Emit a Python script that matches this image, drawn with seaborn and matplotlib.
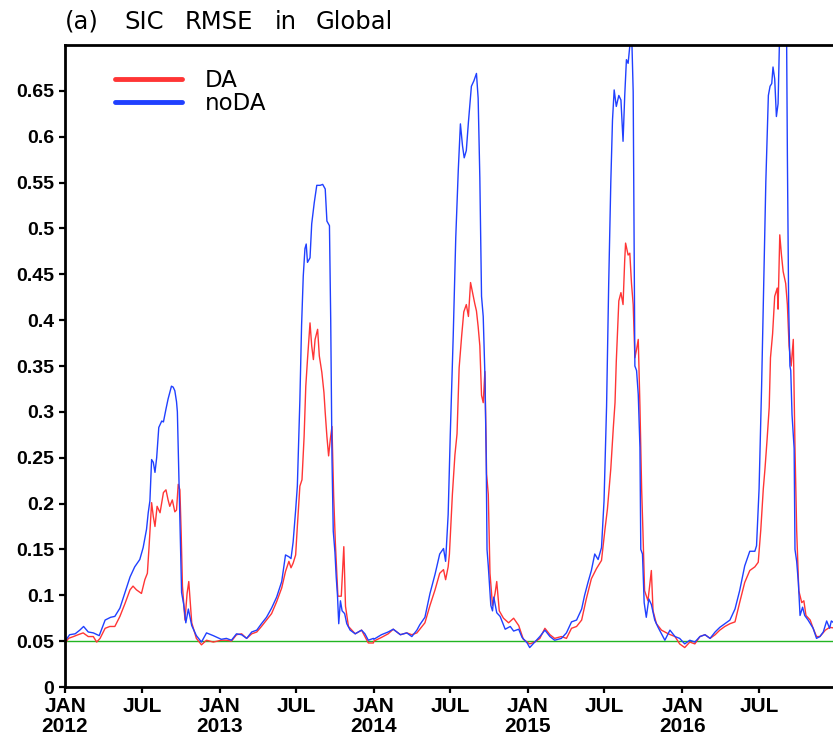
import numpy as np
import pandas as pd
import matplotlib
matplotlib.use("Agg")
import matplotlib.pyplot as plt
import matplotlib.dates as mdates
from matplotlib.ticker import FixedLocator, FuncFormatter
import seaborn as sns

# ---------------- data ----------------
noda_dates = [
    "2012-01-01", "2012-01-12", "2012-01-25", "2012-02-05", "2012-02-14", "2012-02-25", "2012-03-08", "2012-03-22", "2012-04-05", "2012-04-18",
    "2012-04-28", "2012-05-10", "2012-05-22", "2012-06-03", "2012-06-14", "2012-06-26", "2012-07-04", "2012-07-12", "2012-07-16", "2012-07-20",
    "2012-07-24", "2012-07-28", "2012-08-01", "2012-08-05", "2012-08-10", "2012-08-17", "2012-08-21", "2012-08-27", "2012-09-01", "2012-09-09",
    "2012-09-13", "2012-09-17", "2012-09-21", "2012-09-23", "2012-09-28", "2012-10-03", "2012-10-08", "2012-10-13", "2012-10-19", "2012-10-27",
    "2012-11-07", "2012-11-19", "2012-12-01", "2012-12-17",
    "2013-01-05", "2013-01-17", "2013-01-29", "2013-02-10", "2013-02-22", "2013-03-06", "2013-03-18", "2013-03-30", "2013-04-10", "2013-04-22",
    "2013-05-04", "2013-05-16", "2013-05-28", "2013-06-06", "2013-06-14", "2013-06-19", "2013-06-24", "2013-06-30", "2013-07-04", "2013-07-10",
    "2013-07-14", "2013-07-18", "2013-07-22", "2013-07-25", "2013-07-28", "2013-08-03", "2013-08-07", "2013-08-13", "2013-08-19", "2013-08-27",
    "2013-09-02", "2013-09-08", "2013-09-12", "2013-09-18", "2013-09-21", "2013-09-24", "2013-09-27", "2013-10-01", "2013-10-04", "2013-10-07",
    "2013-10-10", "2013-10-14", "2013-10-18", "2013-10-24", "2013-10-29", "2013-11-06", "2013-11-18", "2013-12-03", "2013-12-11", "2013-12-19",
    "2013-12-31",
    "2014-01-01", "2014-01-19", "2014-02-04", "2014-02-16", "2014-03-05", "2014-03-20", "2014-04-01", "2014-04-13", "2014-04-20", "2014-05-02",
    "2014-05-14", "2014-05-26", "2014-06-06", "2014-06-15", "2014-06-20", "2014-06-26", "2014-07-01", "2014-07-08", "2014-07-14", "2014-07-20",
    "2014-07-25", "2014-07-30", "2014-08-03", "2014-08-08", "2014-08-13", "2014-08-20", "2014-08-26", "2014-09-01", "2014-09-05", "2014-09-09",
    "2014-09-13", "2014-09-17", "2014-09-21", "2014-09-24", "2014-09-26", "2014-09-29", "2014-10-05", "2014-10-09", "2014-10-12", "2014-10-19",
    "2014-10-27", "2014-11-08", "2014-11-20", "2014-11-28", "2014-12-10", "2014-12-18", "2014-12-30",
    "2015-01-05", "2015-01-17", "2015-01-29", "2015-02-10", "2015-02-22", "2015-03-05", "2015-03-21", "2015-04-02", "2015-04-14", "2015-04-26",
    "2015-05-08", "2015-05-15", "2015-05-23", "2015-05-31", "2015-06-08", "2015-06-16", "2015-06-24", "2015-06-30", "2015-07-06", "2015-07-11",
    "2015-07-16", "2015-07-20", "2015-07-24", "2015-07-29", "2015-08-04", "2015-08-09", "2015-08-14", "2015-08-18", "2015-08-22", "2015-08-26",
    "2015-08-30", "2015-09-03", "2015-09-07", "2015-09-11", "2015-09-15", "2015-09-19", "2015-09-23", "2015-09-25", "2015-09-29", "2015-10-03",
    "2015-10-08", "2015-10-14", "2015-10-20", "2015-10-28", "2015-11-05", "2015-11-21", "2015-12-03", "2015-12-15", "2015-12-26",
    "2016-01-07", "2016-01-19", "2016-01-31", "2016-02-12", "2016-02-24", "2016-03-07", "2016-03-19", "2016-03-30", "2016-04-11", "2016-04-23",
    "2016-05-05", "2016-05-16", "2016-05-28", "2016-06-09", "2016-06-21", "2016-06-25", "2016-07-01", "2016-07-07", "2016-07-12", "2016-07-17",
    "2016-07-23", "2016-07-27", "2016-07-31", "2016-08-03", "2016-08-07", "2016-08-11", "2016-08-15", "2016-08-19", "2016-08-27", "2016-09-04",
    "2016-09-06", "2016-09-09", "2016-09-12", "2016-09-14", "2016-09-17", "2016-09-22", "2016-09-24", "2016-09-28", "2016-10-02", "2016-10-06",
    "2016-10-12", "2016-10-17", "2016-10-25", "2016-11-06", "2016-11-14", "2016-11-22", "2016-11-30", "2016-12-08", "2016-12-15", "2016-12-19",
    "2016-12-31",
]
noda_vals = [
    0.050, 0.057, 0.058, 0.062, 0.066, 0.060, 0.059, 0.056, 0.073, 0.076,
    0.077, 0.086, 0.103, 0.120, 0.131, 0.139, 0.152, 0.172, 0.190, 0.203,
    0.248, 0.245, 0.234, 0.250, 0.283, 0.290, 0.289, 0.303, 0.314, 0.328,
    0.327, 0.323, 0.311, 0.300, 0.200, 0.103, 0.090, 0.070, 0.085, 0.067,
    0.056, 0.049, 0.059, 0.056,
    0.052, 0.053, 0.051, 0.058, 0.057, 0.053, 0.060, 0.062, 0.069, 0.076,
    0.086, 0.098, 0.115, 0.144, 0.142, 0.140, 0.158, 0.193, 0.219, 0.313,
    0.394, 0.448, 0.478, 0.483, 0.463, 0.468, 0.505, 0.528, 0.547, 0.547,
    0.548, 0.543, 0.508, 0.503, 0.400, 0.250, 0.170, 0.147, 0.120, 0.100,
    0.069, 0.094, 0.083, 0.080, 0.069, 0.062, 0.058, 0.062, 0.058, 0.051,
    0.053,
    0.052, 0.057, 0.060, 0.063, 0.057, 0.059, 0.055, 0.062, 0.068, 0.076,
    0.102, 0.123, 0.145, 0.151, 0.137, 0.188, 0.275, 0.383, 0.490, 0.564,
    0.614, 0.590, 0.577, 0.585, 0.616, 0.655, 0.661, 0.669, 0.642, 0.555,
    0.426, 0.404, 0.340, 0.253, 0.150, 0.132, 0.089, 0.083, 0.098, 0.081,
    0.077, 0.063, 0.066, 0.061, 0.063, 0.054, 0.048,
    0.043, 0.049, 0.055, 0.062, 0.055, 0.051, 0.053, 0.059, 0.071, 0.073,
    0.085, 0.100, 0.114, 0.127, 0.145, 0.139, 0.152, 0.203, 0.306, 0.439,
    0.550, 0.618, 0.651, 0.633, 0.645, 0.640, 0.595, 0.645, 0.684, 0.680,
    0.699, 0.720, 0.649, 0.350, 0.345, 0.319, 0.261, 0.150, 0.145, 0.092,
    0.076, 0.096, 0.090, 0.073, 0.065, 0.051, 0.062, 0.055, 0.053,
    0.047, 0.051, 0.049, 0.055, 0.057, 0.053, 0.060, 0.065, 0.069, 0.073,
    0.085, 0.105, 0.132, 0.148, 0.148, 0.154, 0.216, 0.328, 0.439, 0.551,
    0.645, 0.655, 0.658, 0.676, 0.663, 0.622, 0.636, 0.720, 0.760, 0.720,
    0.580, 0.417, 0.350, 0.345, 0.297, 0.260, 0.150, 0.137, 0.114, 0.078,
    0.087, 0.078, 0.073, 0.064, 0.053, 0.055, 0.060, 0.072, 0.064, 0.072,
    0.068,
]

da_dates = [
    "2012-01-01", "2012-01-09", "2012-01-21", "2012-02-01", "2012-02-13", "2012-02-25", "2012-03-08", "2012-03-16", "2012-03-24", "2012-04-05",
    "2012-04-16", "2012-04-28", "2012-05-10", "2012-05-22", "2012-06-03", "2012-06-10", "2012-06-18", "2012-06-30", "2012-07-08", "2012-07-14",
    "2012-07-18", "2012-07-24", "2012-07-28", "2012-08-01", "2012-08-06", "2012-08-13", "2012-08-21", "2012-08-27", "2012-09-01", "2012-09-05",
    "2012-09-11", "2012-09-17", "2012-09-21", "2012-09-25", "2012-09-29", "2012-10-02", "2012-10-05", "2012-10-11", "2012-10-16", "2012-10-20",
    "2012-10-27", "2012-11-07", "2012-11-19", "2012-12-01", "2012-12-17",
    "2013-01-05", "2013-01-17", "2013-01-29", "2013-02-10", "2013-02-22", "2013-03-06", "2013-03-18", "2013-03-30", "2013-04-10", "2013-04-22",
    "2013-05-04", "2013-05-16", "2013-05-28", "2013-06-06", "2013-06-14", "2013-06-19", "2013-06-24", "2013-06-30", "2013-07-04", "2013-07-10",
    "2013-07-15", "2013-07-20", "2013-07-24", "2013-07-28", "2013-08-03", "2013-08-07", "2013-08-11", "2013-08-15", "2013-08-21", "2013-08-25",
    "2013-08-31", "2013-09-05", "2013-09-08", "2013-09-12", "2013-09-16", "2013-09-20", "2013-09-24", "2013-09-28", "2013-10-02", "2013-10-08",
    "2013-10-16", "2013-10-22", "2013-10-26", "2013-11-02", "2013-11-18", "2013-12-03", "2013-12-19", "2013-12-31",
    "2014-01-01", "2014-01-19", "2014-02-04", "2014-02-16", "2014-03-05", "2014-03-20", "2014-04-01", "2014-04-13", "2014-04-20", "2014-05-02",
    "2014-05-14", "2014-05-26", "2014-06-06", "2014-06-15", "2014-06-20", "2014-06-26", "2014-06-29", "2014-07-06", "2014-07-12", "2014-07-17",
    "2014-07-22", "2014-07-28", "2014-08-02", "2014-08-08", "2014-08-13", "2014-08-18", "2014-08-24", "2014-08-28", "2014-09-01", "2014-09-05",
    "2014-09-09", "2014-09-13", "2014-09-17", "2014-09-21", "2014-09-25", "2014-09-29", "2014-10-03", "2014-10-09", "2014-10-15", "2014-10-19",
    "2014-10-25", "2014-11-04", "2014-11-16", "2014-11-28", "2014-12-10", "2014-12-21",
    "2015-01-05", "2015-01-17", "2015-01-29", "2015-02-10", "2015-02-22", "2015-03-05", "2015-03-21", "2015-04-02", "2015-04-14", "2015-04-26",
    "2015-05-08", "2015-05-19", "2015-05-31", "2015-06-12", "2015-06-24", "2015-07-02", "2015-07-08", "2015-07-16", "2015-07-22", "2015-07-26",
    "2015-07-29", "2015-08-04", "2015-08-09", "2015-08-14", "2015-08-18", "2015-08-20", "2015-08-26", "2015-08-30", "2015-09-03", "2015-09-07",
    "2015-09-11", "2015-09-15", "2015-09-19", "2015-09-23", "2015-09-27", "2015-09-30", "2015-10-04", "2015-10-12", "2015-10-20", "2015-10-24",
    "2015-11-01", "2015-11-13", "2015-11-29", "2015-12-15", "2015-12-26",
    "2016-01-07", "2016-01-19", "2016-01-31", "2016-02-12", "2016-02-24", "2016-03-07", "2016-03-19", "2016-03-30", "2016-04-11", "2016-04-23",
    "2016-05-05", "2016-05-16", "2016-05-28", "2016-06-09", "2016-06-21", "2016-06-29", "2016-07-05", "2016-07-11", "2016-07-15", "2016-07-20",
    "2016-07-25", "2016-07-28", "2016-08-02", "2016-08-07", "2016-08-13", "2016-08-15", "2016-08-19", "2016-08-23", "2016-08-27", "2016-09-02",
    "2016-09-06", "2016-09-10", "2016-09-15", "2016-09-20", "2016-09-24", "2016-09-28", "2016-10-03", "2016-10-10", "2016-10-15", "2016-10-20",
    "2016-10-30", "2016-11-06", "2016-11-14", "2016-11-22", "2016-12-05", "2016-12-15", "2016-12-31",
]
da_vals = [
    0.047, 0.053, 0.055, 0.057, 0.059, 0.055, 0.055, 0.049, 0.053, 0.064,
    0.066, 0.066, 0.077, 0.091, 0.106, 0.110, 0.106, 0.102, 0.117, 0.124,
    0.153, 0.201, 0.186, 0.175, 0.197, 0.190, 0.212, 0.215, 0.204, 0.197,
    0.204, 0.191, 0.193, 0.221, 0.215, 0.168, 0.110, 0.073, 0.102, 0.115,
    0.070, 0.053, 0.046, 0.051, 0.049,
    0.051, 0.051, 0.050, 0.057, 0.058, 0.053, 0.058, 0.060, 0.066, 0.073,
    0.080, 0.093, 0.108, 0.126, 0.137, 0.130, 0.135, 0.144, 0.175, 0.219,
    0.226, 0.273, 0.328, 0.357, 0.397, 0.372, 0.357, 0.379, 0.390, 0.361,
    0.343, 0.321, 0.299, 0.273, 0.252, 0.270, 0.284, 0.208, 0.157, 0.099,
    0.099, 0.153, 0.088, 0.066, 0.058, 0.062, 0.048, 0.048,
    0.050, 0.054, 0.058, 0.063, 0.057, 0.059, 0.057, 0.059, 0.063, 0.070,
    0.089, 0.106, 0.124, 0.128, 0.117, 0.131, 0.145, 0.210, 0.253, 0.276,
    0.348, 0.383, 0.409, 0.417, 0.404, 0.441, 0.427, 0.418, 0.410, 0.393,
    0.372, 0.318, 0.310, 0.344, 0.232, 0.210, 0.124, 0.089, 0.102, 0.115,
    0.083, 0.075, 0.070, 0.075, 0.067, 0.052,
    0.047, 0.049, 0.053, 0.064, 0.057, 0.053, 0.055, 0.053, 0.064, 0.066,
    0.073, 0.096, 0.118, 0.129, 0.138, 0.171, 0.194, 0.238, 0.283, 0.310,
    0.355, 0.421, 0.430, 0.417, 0.466, 0.484, 0.471, 0.473, 0.440, 0.417,
    0.359, 0.368, 0.379, 0.306, 0.216, 0.171, 0.105, 0.094, 0.127, 0.083,
    0.069, 0.062, 0.058, 0.055, 0.047,
    0.043, 0.049, 0.047, 0.055, 0.057, 0.053, 0.057, 0.062, 0.066, 0.069,
    0.071, 0.092, 0.114, 0.127, 0.131, 0.136, 0.171, 0.216, 0.238, 0.270,
    0.305, 0.359, 0.385, 0.426, 0.435, 0.412, 0.493, 0.471, 0.453, 0.440,
    0.417, 0.372, 0.350, 0.379, 0.261, 0.171, 0.105, 0.092, 0.094, 0.078,
    0.073, 0.064, 0.055, 0.055, 0.062, 0.065, 0.064,
]

series_names = ["DA", "noDA"]
series_colors = ["#FF3535", "#2040FF"]
ytick_vals = [0, 0.05, 0.1, 0.15, 0.2, 0.25, 0.3, 0.35, 0.4, 0.45, 0.5, 0.55, 0.6, 0.65]
xtick_dates = ["2012-01-01", "2012-07-01", "2013-01-01", "2013-07-01", "2014-01-01", "2014-07-01",
               "2015-01-01", "2015-07-01", "2016-01-01", "2016-07-01"]
xtick_labels = ["JAN\n2012", "JUL", "JAN\n2013", "JUL", "JAN\n2014", "JUL",
                "JAN\n2015", "JUL", "JAN\n2016", "JUL"]
title_words = ["(a)", "SIC", "RMSE", "in", "Global"]
reference_level = 0.05

assert len(noda_dates) == len(noda_vals), (len(noda_dates), len(noda_vals))
assert len(da_dates) == len(da_vals), (len(da_dates), len(da_vals))

df = pd.concat([
    pd.DataFrame({"date": pd.to_datetime(da_dates), "rmse": da_vals, "exp": "DA"}),
    pd.DataFrame({"date": pd.to_datetime(noda_dates), "rmse": noda_vals, "exp": "noDA"}),
], ignore_index=True)

# ---------------- figure ----------------
sns.set_style("ticks")
plt.rcParams["font.family"] = ["Liberation Sans", "DejaVu Sans"]
plt.rcParams["text.color"] = "black"
plt.rcParams["axes.labelcolor"] = "black"

W, H = 833, 738
fig = plt.figure(figsize=(W / 100, H / 100), dpi=100)
ax = fig.add_axes([65 / W, (H - 687) / H, 768 / W, 642 / H])

ax.axhline(reference_level, color="#22B522", lw=1.0, zorder=1)

sns.lineplot(data=df, x="date", y="rmse", hue="exp", hue_order=series_names,
             palette=dict(zip(series_names, series_colors)), lw=1.0, ax=ax,
             estimator=None, sort=True, zorder=2)

ax.set_xlim(pd.Timestamp("2012-01-01"), pd.Timestamp("2016-12-23"))
ax.set_ylim(0, 0.70)
ax.set_xlabel("")
ax.set_ylabel("")

ax.yaxis.set_major_locator(FixedLocator(ytick_vals))
ax.yaxis.set_major_formatter(FuncFormatter(lambda v, p: "%g" % round(v, 2)))
ax.set_xticks(mdates.date2num(pd.to_datetime(xtick_dates)))
ax.set_xticklabels(xtick_labels)

ax.tick_params(axis="both", direction="out", length=4, width=1.6, labelsize=14,
               colors="black")
ax.tick_params(axis="x", pad=3, labelsize=15)
ax.tick_params(axis="y", pad=4)
for lbl in ax.get_xticklabels() + ax.get_yticklabels():
    lbl.set_fontweight("bold")
for lbl in ax.get_xticklabels():
    lbl.set_linespacing(1.08)

for s in ["left", "bottom", "top"]:
    ax.spines[s].set_linewidth(2.0)
    ax.spines[s].set_color("black")
ax.spines["right"].set_visible(False)

# legend
handles, labels = ax.get_legend_handles_labels()
leg = ax.legend(handles, labels, loc="upper left", bbox_to_anchor=(0.065, 0.962),
                frameon=False, prop={"family": "DejaVu Sans", "size": 16.5},
                handlelength=2.93, handletextpad=1.0, labelspacing=0.0,
                borderpad=0, borderaxespad=0)
for h in leg.legend_handles:
    h.set_linewidth(3.5)
    h.set_solid_capstyle("round")
for t in leg.get_texts():
    t.set_color("black")

# title, word by word to mimic the wide letter spacing of the original
word_x = [65, 124, 185, 275, 316]
for wd, xpx in zip(title_words, word_x):
    fig.text(xpx / W, 1 - 29 / H, wd, fontsize=17.5, family="DejaVu Sans",
             va="baseline", ha="left", color="black")

fig.savefig("out.png", dpi=100)
